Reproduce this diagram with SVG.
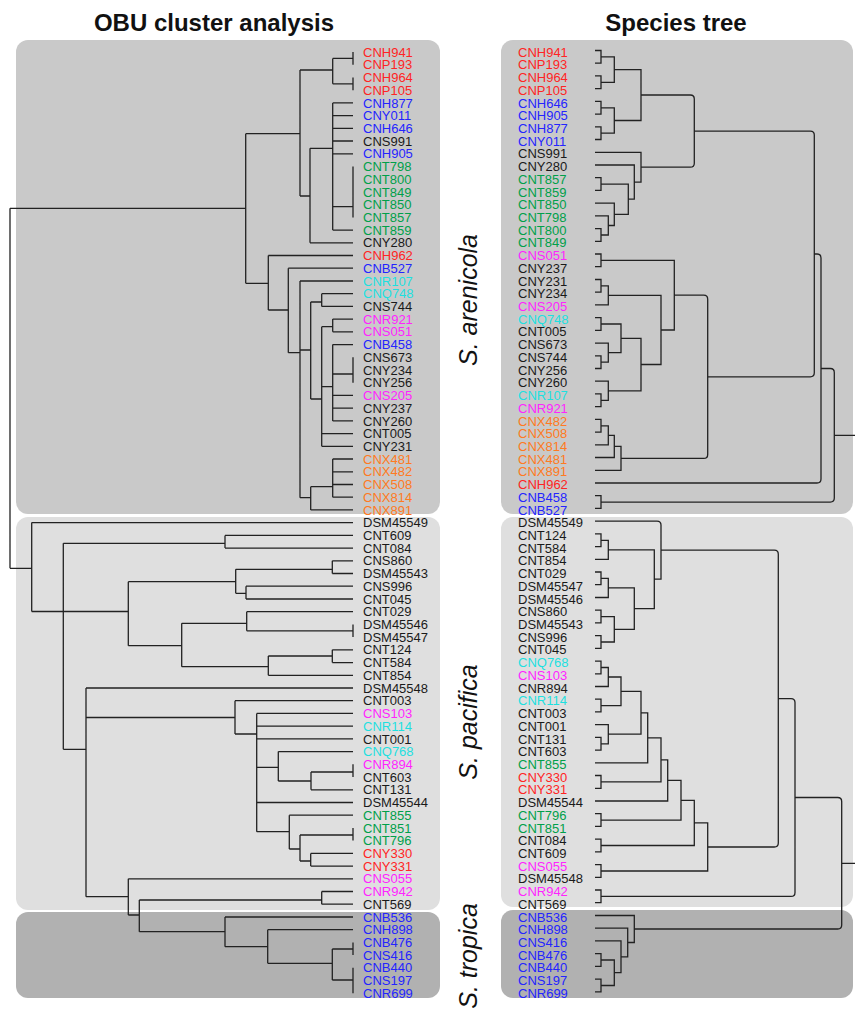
<svg xmlns="http://www.w3.org/2000/svg" width="855" height="1009" viewBox="0 0 855 1009">
<style>
.t{font-family:"Liberation Sans",Arial,sans-serif;font-size:13px}
.hd{font-family:"Liberation Sans",Arial,sans-serif;font-size:24px;font-weight:bold;fill:#111;text-anchor:middle}
.sp{font-family:"Liberation Sans",Arial,sans-serif;font-size:25px;font-style:italic;fill:#111;text-anchor:middle}
.r{fill:#ff2424}.b{fill:#2424ff}.g{fill:#00a04a}.c{fill:#1ee0e0}.m{fill:#ff24ff}.o{fill:#ff7a22}.k{fill:#1a1a1a}
.ln{fill:none;stroke:#222;stroke-width:1.3}
</style>
<g id="panels">
<rect x="16" y="40" width="424" height="474" rx="12" fill="#c9c9c9"/>
<rect x="16" y="517" width="424" height="393" rx="12" fill="#dfdfdf"/>
<rect x="16" y="912" width="424" height="86" rx="12" fill="#b1b1b1"/>
<rect x="501" y="40" width="352" height="474" rx="12" fill="#c9c9c9"/>
<rect x="501" y="517" width="352" height="390" rx="12" fill="#dfdfdf"/>
<rect x="501" y="910" width="352" height="88" rx="12" fill="#b1b1b1"/>
</g>
<g id="headers">
<text class="hd" x="214" y="31">OBU cluster analysis</text>
<text class="hd" x="676" y="31">Species tree</text>
</g>
<g id="species">
<text class="sp" transform="translate(477 300) rotate(-90)">S. arenicola</text>
<text class="sp" transform="translate(477 722) rotate(-90)">S. pacifica</text>
<text class="sp" transform="translate(477 956) rotate(-90)">S. tropica</text>
</g>
<g id="connectors-left" class="ln">
<path d="M10 208.3V568.3M10 208.3H245.7M10 568.3H31.7
M245.7 133.7V283.3M245.7 133.7H300M245.7 283.3H268.3
M300 70V196M300 70H332.7M300 196H310
M332.7 58.4V83.8M332.7 58.4H353M353 52V64.7M332.7 83.8H353M353 77.4V90.2
M310 148.3V242.8M310 148.3H332.7M310 242.8H353
M332.7 102.9V230.1M332.7 102.9H353M332.7 115.6H353M332.7 128.3H353M332.7 141H353M332.7 153.8H353M332.7 206.7H353M353 166.5V217.4M332.7 230.1H353
M268.3 255.5V310M268.3 255.5H353M268.3 310H288.3
M288.3 268.2V352.7M288.3 268.2H353M288.3 352.7H300
M300 281V497.7M300 281H353M300 350H310.7M300 497.7H310.7
M310.7 302V399M310.7 302H321.7M310.7 399H321.7
M321.7 293.7V306.4M321.7 293.7H353M321.7 306.4H353
M321.7 326.7V446.3M321.7 326.7H332.7M321.7 386.7H332.7M321.7 433.6H353M321.7 446.3H353
M332.7 319.1V331.8M332.7 319.1H353M332.7 331.8H353
M332.7 344.6V420.9M332.7 344.6H353M332.7 374H353M353 357.3V382.7M332.7 395.4H353M332.7 408.2H353M332.7 420.9H353
M310.7 486.7V509.9M310.7 486.7H332.7M310.7 509.9H353
M332.7 459V497.2M332.7 459H353M332.7 471.8H353M332.7 484.5H353M332.7 497.2H353
M31.7 522.6V611.5M31.7 522.6H353M31.7 611.5H63.3
M63.3 543.3V749.3M63.3 543.3H225M63.3 611.5H128.3M63.3 749.3H86
M225 535.4V548.1M225 535.4H353M225 548.1H353
M128.3 581.7V645.7M128.3 581.7H235.7M128.3 645.7H181.7
M235.7 569.3V593.3M235.7 569.3H332.3M235.7 593.3H246
M332.3 560.8V573.5M332.3 560.8H353M332.3 573.5H353
M246 586.2V599M246 586.2H353M246 599H353
M181.7 623.3V666.7M181.7 623.3H246.7M181.7 666.7H268.3
M246.7 611.7V630.8M246.7 611.7H353M246.7 630.8H353M353 624.4V637.1
M268.3 656V675.3M268.3 656H332.3M268.3 675.3H353
M332.3 649.8V662.6M332.3 649.8H353M332.3 662.6H353
M86 688V896.7M86 688H353M86 717.5H235M86 896.7H128.3
M235 700.7V734M235 700.7H353M235 734H256.7
M256.7 713.4V831.7M256.7 713.4H353M256.7 726.2H353M256.7 738.9H353M256.7 767.3H278.3M256.7 802.5H353M256.7 831.7H289.3
M278.3 751.6V781M278.3 751.6H353M278.3 781H311
M311 772V789.8M311 772H353M353 764.3V777M311 789.8H353
M289.3 815.2V849M289.3 815.2H353M289.3 849H300
M300 835V861M300 835H353M353 827.9V840.6M300 861H310.7
M310.7 853.4V866.1M310.7 853.4H353M310.7 866.1H353
M128.3 878.8V915M128.3 878.8H353M128.3 915H139.3
M139.3 900V931.7M139.3 900H321.7M139.3 931.7H225
M321.7 891.5V904.2M321.7 891.5H353M321.7 904.2H353
M225 917V946.7M225 917H353M225 946.7H267.7
M267.7 929.7V963.3M267.7 929.7H353M267.7 963.3H332.3
M332.3 949V980M332.3 949H353M353 942.4V955.1M332.3 980H353M353 967.8V993.3"/>
</g>
<g id="connectors-right" class="ln">
<path d="M595 50.5H601V63.2H595M595 75.9H601V88.7H595M601 56.9H614.3V82.3H601
M595 101.4H601V114.1H595M595 126.8H601V139.5H595M601 107.8H614.3V133.2H601
M614.3 69.6H641V120.5H614.3
M595 177.7H601V190.4H595M595 228.6H601V241.3H595M595 215.9H608.3V235H601
M595 203.1H614.3V225.5H608.3M601 184.1H628.3V214.3H614.3M595 165H634.3V199.2H628.3M595 152.3H641V182.1H634.3
M641 95H690.3Q694.3 95 694.3 99V163.2Q694.3 167.2 690.3 167.2H641
M595 254H601V266.7H595M595 279.5H601V292.2H595M601 285.9H608.3V304.9H595
M595 317.6H601V330.3H595M595 355.8H601V368.5H595M595 343.1H608.3V362.2H601M601 324H621V352.6H608.3
M595 393.9H601V406.7H595M595 381.2H608.3V400.3H601M621 338.3H641V390.8H608.3
M608.3 295.4H661V364.5H641M601 260.4H674.3V330H661
M595 419.4H601V432.1H595M601 425.8H608.3V444.8H595M608.3 435.3H614.3V457.5H595M614.3 446.4H621V470.3H595
M674.3 295.2H703.7Q707.7 295.2 707.7 299.2V454.4Q707.7 458.4 703.7 458.4H621
M694.3 131.1H810.3Q814.3 131.1 814.3 135.1V372.8Q814.3 376.8 810.3 376.8H707.7
M814.3 254H817Q821 254 821 258V479Q821 483 817 483H595
M595 495.7H601V508.4H595
M821 368.5H830.3Q834.3 368.5 834.3 372.5V498.1Q834.3 502.1 830.3 502.1H601M834.3 435.3H855
M595 533.9H601V546.6H595M601 540.3H608.3V559.3H595M595 572H601V584.7H595M601 578.4H608.3V597.5H595
M595 610.2H601V622.9H595M595 635.6H601V648.3H595M601 616.6H614.3V642H601
M608.3 587.9H634.3V629.3H614.3M608.3 549.8H654.3V608.6H634.3
M595 521.1H657Q661 521.1 661 525.1V579.2H654.3
M595 661.1H601V673.8H595M601 667.5H608.3V686.5H595M595 699.2H601V711.9H595M608.3 677H621V705.6H601
M595 737.4H601V750.1H595M595 724.7H608.3V743.8H601M621 691.3H641V734.2H608.3M641 712.8H647.7V762.8H595
M595 775.5H601V788.3H595M647.7 737.8H661V781.9H601M661 759.9H667.7V801H595
M595 813.7H601V826.4H595M667.7 780.4H681V820.1H601
M595 839.1H601V851.9H595M681 800.3H694.3V845.5H601
M595 864.6H601V877.3H595M694.3 822.9H707.7V871H601
M661 550.2H774.3Q778.3 550.2 778.3 554.2V843Q778.3 847 774.3 847H707.7
M595 890H601V902.7H595
M778.3 698.6H791Q795 698.6 795 702.6V892.4Q795 896.4 791 896.4H601
M595 953.6H601V966.3H595M595 979.1H601V991.8H595M601 960H614.3V985.5H601
M595 940.9H621V972.7H614.3M595 928.2H627.7V956.8H621M595 915.5H634.3V942.5H627.7
M795 797.5H837.7Q841.7 797.5 841.7 801.5V925Q841.7 929 837.7 929H634.3M841.7 863.3H855"/>
</g>
<g id="labels-left" class="t">
<g id="L01"><text class="r" x="363" y="56.6">CNH941</text></g>
<g id="L02"><text class="r" x="363" y="69.3">CNP193</text></g>
<g id="L03"><text class="r" x="363" y="82">CNH964</text></g>
<g id="L04"><text class="r" x="363" y="94.8">CNP105</text></g>
<g id="L05"><text class="b" x="363" y="107.5">CNH877</text></g>
<g id="L06"><text class="b" x="363" y="120.2">CNY011</text></g>
<g id="L07"><text class="b" x="363" y="132.9">CNH646</text></g>
<g id="L08"><text class="k" x="363" y="145.6">CNS991</text></g>
<g id="L09"><text class="b" x="363" y="158.4">CNH905</text></g>
<g id="L10"><text class="g" x="363" y="171.1">CNT798</text></g>
<g id="L11"><text class="g" x="363" y="183.8">CNT800</text></g>
<g id="L12"><text class="g" x="363" y="196.5">CNT849</text></g>
<g id="L13"><text class="g" x="363" y="209.2">CNT850</text></g>
<g id="L14"><text class="g" x="363" y="222">CNT857</text></g>
<g id="L15"><text class="g" x="363" y="234.7">CNT859</text></g>
<g id="L16"><text class="k" x="363" y="247.4">CNY280</text></g>
<g id="L17"><text class="r" x="363" y="260.1">CNH962</text></g>
<g id="L18"><text class="b" x="363" y="272.8">CNB527</text></g>
<g id="L19"><text class="c" x="363" y="285.6">CNR107</text></g>
<g id="L20"><text class="c" x="363" y="298.3">CNQ748</text></g>
<g id="L21"><text class="k" x="363" y="311">CNS744</text></g>
<g id="L22"><text class="m" x="363" y="323.7">CNR921</text></g>
<g id="L23"><text class="m" x="363" y="336.4">CNS051</text></g>
<g id="L24"><text class="b" x="363" y="349.2">CNB458</text></g>
<g id="L25"><text class="k" x="363" y="361.9">CNS673</text></g>
<g id="L26"><text class="k" x="363" y="374.6">CNY234</text></g>
<g id="L27"><text class="k" x="363" y="387.3">CNY256</text></g>
<g id="L28"><text class="m" x="363" y="400">CNS205</text></g>
<g id="L29"><text class="k" x="363" y="412.8">CNY237</text></g>
<g id="L30"><text class="k" x="363" y="425.5">CNY260</text></g>
<g id="L31"><text class="k" x="363" y="438.2">CNT005</text></g>
<g id="L32"><text class="k" x="363" y="450.9">CNY231</text></g>
<g id="L33"><text class="o" x="363" y="463.6">CNX481</text></g>
<g id="L34"><text class="o" x="363" y="476.4">CNX482</text></g>
<g id="L35"><text class="o" x="363" y="489.1">CNX508</text></g>
<g id="L36"><text class="o" x="363" y="501.8">CNX814</text></g>
<g id="L37"><text class="o" x="363" y="514.5">CNX891</text></g>
<g id="L38"><text class="k" x="363" y="527.2">DSM45549</text></g>
<g id="L39"><text class="k" x="363" y="540">CNT609</text></g>
<g id="L40"><text class="k" x="363" y="552.7">CNT084</text></g>
<g id="L41"><text class="k" x="363" y="565.4">CNS860</text></g>
<g id="L42"><text class="k" x="363" y="578.1">DSM45543</text></g>
<g id="L43"><text class="k" x="363" y="590.8">CNS996</text></g>
<g id="L44"><text class="k" x="363" y="603.6">CNT045</text></g>
<g id="L45"><text class="k" x="363" y="616.3">CNT029</text></g>
<g id="L46"><text class="k" x="363" y="629">DSM45546</text></g>
<g id="L47"><text class="k" x="363" y="641.7">DSM45547</text></g>
<g id="L48"><text class="k" x="363" y="654.4">CNT124</text></g>
<g id="L49"><text class="k" x="363" y="667.2">CNT584</text></g>
<g id="L50"><text class="k" x="363" y="679.9">CNT854</text></g>
<g id="L51"><text class="k" x="363" y="692.6">DSM45548</text></g>
<g id="L52"><text class="k" x="363" y="705.3">CNT003</text></g>
<g id="L53"><text class="m" x="363" y="718">CNS103</text></g>
<g id="L54"><text class="c" x="363" y="730.8">CNR114</text></g>
<g id="L55"><text class="k" x="363" y="743.5">CNT001</text></g>
<g id="L56"><text class="c" x="363" y="756.2">CNQ768</text></g>
<g id="L57"><text class="m" x="363" y="768.9">CNR894</text></g>
<g id="L58"><text class="k" x="363" y="781.6">CNT603</text></g>
<g id="L59"><text class="k" x="363" y="794.4">CNT131</text></g>
<g id="L60"><text class="k" x="363" y="807.1">DSM45544</text></g>
<g id="L61"><text class="g" x="363" y="819.8">CNT855</text></g>
<g id="L62"><text class="g" x="363" y="832.5">CNT851</text></g>
<g id="L63"><text class="g" x="363" y="845.2">CNT796</text></g>
<g id="L64"><text class="r" x="363" y="858">CNY330</text></g>
<g id="L65"><text class="r" x="363" y="870.7">CNY331</text></g>
<g id="L66"><text class="m" x="363" y="883.4">CNS055</text></g>
<g id="L67"><text class="m" x="363" y="896.1">CNR942</text></g>
<g id="L68"><text class="k" x="363" y="908.8">CNT569</text></g>
<g id="L69"><text class="b" x="363" y="921.6">CNB536</text></g>
<g id="L70"><text class="b" x="363" y="934.3">CNH898</text></g>
<g id="L71"><text class="b" x="363" y="947">CNB476</text></g>
<g id="L72"><text class="b" x="363" y="959.7">CNS416</text></g>
<g id="L73"><text class="b" x="363" y="972.4">CNB440</text></g>
<g id="L74"><text class="b" x="363" y="985.2">CNS197</text></g>
<g id="L75"><text class="b" x="363" y="997.9">CNR699</text></g>
</g>
<g id="labels-right" class="t">
<g id="R01"><text class="r" x="518" y="56.6">CNH941</text></g>
<g id="R02"><text class="r" x="518" y="69.3">CNP193</text></g>
<g id="R03"><text class="r" x="518" y="82">CNH964</text></g>
<g id="R04"><text class="r" x="518" y="94.8">CNP105</text></g>
<g id="R05"><text class="b" x="518" y="107.5">CNH646</text></g>
<g id="R06"><text class="b" x="518" y="120.2">CNH905</text></g>
<g id="R07"><text class="b" x="518" y="132.9">CNH877</text></g>
<g id="R08"><text class="b" x="518" y="145.6">CNY011</text></g>
<g id="R09"><text class="k" x="518" y="158.4">CNS991</text></g>
<g id="R10"><text class="k" x="518" y="171.1">CNY280</text></g>
<g id="R11"><text class="g" x="518" y="183.8">CNT857</text></g>
<g id="R12"><text class="g" x="518" y="196.5">CNT859</text></g>
<g id="R13"><text class="g" x="518" y="209.2">CNT850</text></g>
<g id="R14"><text class="g" x="518" y="222">CNT798</text></g>
<g id="R15"><text class="g" x="518" y="234.7">CNT800</text></g>
<g id="R16"><text class="g" x="518" y="247.4">CNT849</text></g>
<g id="R17"><text class="m" x="518" y="260.1">CNS051</text></g>
<g id="R18"><text class="k" x="518" y="272.8">CNY237</text></g>
<g id="R19"><text class="k" x="518" y="285.6">CNY231</text></g>
<g id="R20"><text class="k" x="518" y="298.3">CNY234</text></g>
<g id="R21"><text class="m" x="518" y="311">CNS205</text></g>
<g id="R22"><text class="c" x="518" y="323.7">CNQ748</text></g>
<g id="R23"><text class="k" x="518" y="336.4">CNT005</text></g>
<g id="R24"><text class="k" x="518" y="349.2">CNS673</text></g>
<g id="R25"><text class="k" x="518" y="361.9">CNS744</text></g>
<g id="R26"><text class="k" x="518" y="374.6">CNY256</text></g>
<g id="R27"><text class="k" x="518" y="387.3">CNY260</text></g>
<g id="R28"><text class="c" x="518" y="400">CNR107</text></g>
<g id="R29"><text class="m" x="518" y="412.8">CNR921</text></g>
<g id="R30"><text class="o" x="518" y="425.5">CNX482</text></g>
<g id="R31"><text class="o" x="518" y="438.2">CNX508</text></g>
<g id="R32"><text class="o" x="518" y="450.9">CNX814</text></g>
<g id="R33"><text class="o" x="518" y="463.6">CNX481</text></g>
<g id="R34"><text class="o" x="518" y="476.4">CNX891</text></g>
<g id="R35"><text class="r" x="518" y="489.1">CNH962</text></g>
<g id="R36"><text class="b" x="518" y="501.8">CNB458</text></g>
<g id="R37"><text class="b" x="518" y="514.5">CNB527</text></g>
<g id="R38"><text class="k" x="518" y="527.2">DSM45549</text></g>
<g id="R39"><text class="k" x="518" y="540">CNT124</text></g>
<g id="R40"><text class="k" x="518" y="552.7">CNT584</text></g>
<g id="R41"><text class="k" x="518" y="565.4">CNT854</text></g>
<g id="R42"><text class="k" x="518" y="578.1">CNT029</text></g>
<g id="R43"><text class="k" x="518" y="590.8">DSM45547</text></g>
<g id="R44"><text class="k" x="518" y="603.6">DSM45546</text></g>
<g id="R45"><text class="k" x="518" y="616.3">CNS860</text></g>
<g id="R46"><text class="k" x="518" y="629">DSM45543</text></g>
<g id="R47"><text class="k" x="518" y="641.7">CNS996</text></g>
<g id="R48"><text class="k" x="518" y="654.4">CNT045</text></g>
<g id="R49"><text class="c" x="518" y="667.2">CNQ768</text></g>
<g id="R50"><text class="m" x="518" y="679.9">CNS103</text></g>
<g id="R51"><text class="k" x="518" y="692.6">CNR894</text></g>
<g id="R52"><text class="c" x="518" y="705.3">CNR114</text></g>
<g id="R53"><text class="k" x="518" y="718">CNT003</text></g>
<g id="R54"><text class="k" x="518" y="730.8">CNT001</text></g>
<g id="R55"><text class="k" x="518" y="743.5">CNT131</text></g>
<g id="R56"><text class="k" x="518" y="756.2">CNT603</text></g>
<g id="R57"><text class="g" x="518" y="768.9">CNT855</text></g>
<g id="R58"><text class="r" x="518" y="781.6">CNY330</text></g>
<g id="R59"><text class="r" x="518" y="794.4">CNY331</text></g>
<g id="R60"><text class="k" x="518" y="807.1">DSM45544</text></g>
<g id="R61"><text class="g" x="518" y="819.8">CNT796</text></g>
<g id="R62"><text class="g" x="518" y="832.5">CNT851</text></g>
<g id="R63"><text class="k" x="518" y="845.2">CNT084</text></g>
<g id="R64"><text class="k" x="518" y="858">CNT609</text></g>
<g id="R65"><text class="m" x="518" y="870.7">CNS055</text></g>
<g id="R66"><text class="k" x="518" y="883.4">DSM45548</text></g>
<g id="R67"><text class="m" x="518" y="896.1">CNR942</text></g>
<g id="R68"><text class="k" x="518" y="908.8">CNT569</text></g>
<g id="R69"><text class="b" x="518" y="921.6">CNB536</text></g>
<g id="R70"><text class="b" x="518" y="934.3">CNH898</text></g>
<g id="R71"><text class="b" x="518" y="947">CNS416</text></g>
<g id="R72"><text class="b" x="518" y="959.7">CNB476</text></g>
<g id="R73"><text class="b" x="518" y="972.4">CNB440</text></g>
<g id="R74"><text class="b" x="518" y="985.2">CNS197</text></g>
<g id="R75"><text class="b" x="518" y="997.9">CNR699</text></g>
</g>
</svg>
